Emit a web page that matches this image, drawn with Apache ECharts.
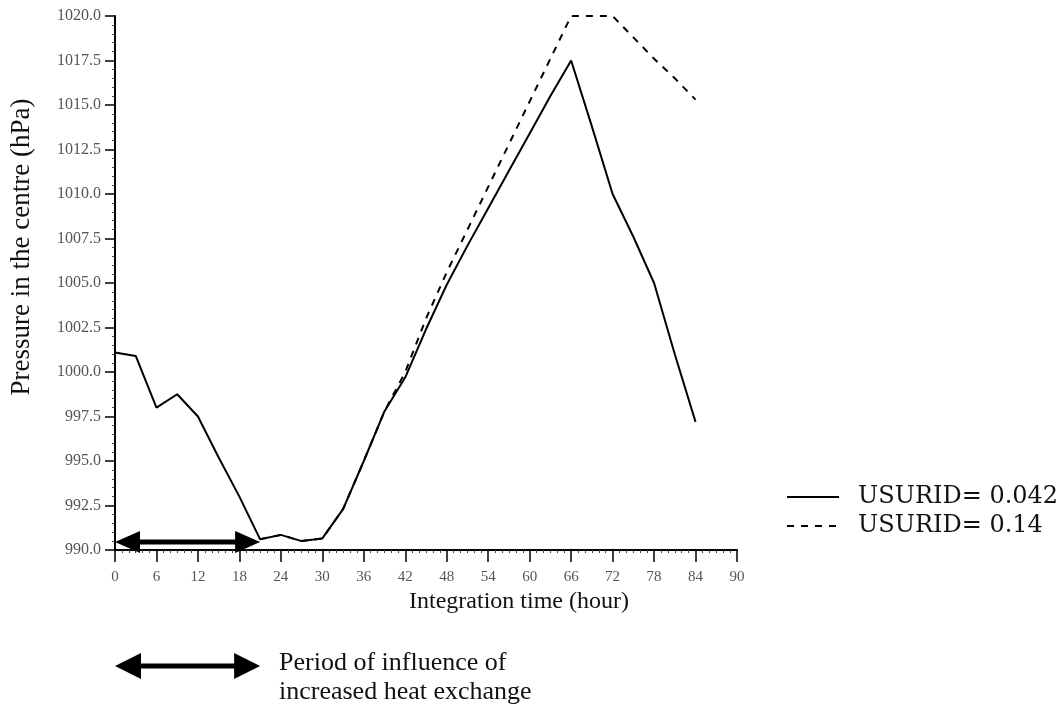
<!DOCTYPE html>
<html>
<head>
<meta charset="utf-8">
<script src="https://cdn.jsdelivr.net/npm/echarts@6/dist/echarts.min.js"></script>
<style>
html,body{margin:0;padding:0;background:#fff;}
#chart{width:1063px;height:707px;}
</style>
</head>
<body>
<div id="chart"></div>
<script>
// ---- data ----
const hours = [0,3,6,9,12,15,18,21,24,27,30,33,36,39,42,45,48,51,54,57,60,63,66,69,72,75,78,81,84];
const usurid042 = [1001.1,1000.9,998.0,998.75,997.5,995.2,993.0,990.6,990.85,990.5,990.65,992.3,995.0,997.8,999.7,1002.4,1004.9,1007.1,1009.2,1011.3,1013.4,1015.5,1017.5,1013.8,1010.0,1007.6,1005.0,1001.0,997.2];
const usurid014 = [null,null,null,null,null,null,null,990.6,990.85,990.5,990.65,992.3,995.0,997.8,1000.0,1003.0,1005.6,1008.0,1010.4,1012.8,1015.2,1017.6,1020.0,1020.0,1020.0,1018.8,1017.6,1016.5,1015.3];
const seriesNames = ['USURID= 0.042', 'USURID= 0.14'];
const influencePeriod = [0, 21];      // hours
const influenceLevel = 990.45;        // hPa, where the in-plot arrow is drawn
const yTicks = {min: 990, max: 1020, interval: 2.5};
const xTicks = {min: 0, max: 90, interval: 6};
const annotationLines = ['Period of influence of', 'increased heat exchange'];

const serif = '"Liberation Serif", "Times New Roman", serif';
const wideSerif = '"DejaVu Serif", serif';
const chart = echarts.init(document.getElementById('chart'), null, {renderer: 'canvas'});

function pair(xs, ys) { return xs.map((x, i) => [x, ys[i]]); }

const option = {
  backgroundColor: '#fff',
  animation: false,
  grid: {left: 110, right: 326, top: 16, bottom: 157, containLabel: false},
  xAxis: {
    type: 'value', min: xTicks.min, max: xTicks.max, interval: xTicks.interval,
    name: 'Integration time (hour)', nameLocation: 'middle', nameGap: 40,
    nameTextStyle: {fontFamily: serif, fontSize: 24, color: '#111', padding: [0, 0, 0, 186]},
    axisLine: {show: true, onZero: false, lineStyle: {color: '#000', width: 2}},
    axisTick: {show: true, length: 12, lineStyle: {color: '#000', width: 1.5}},
    minorTick: {show: true, splitNumber: 6, length: 3, lineStyle: {color: '#444', width: 1}},
    axisLabel: {fontFamily: serif, fontSize: 15, color: '#555', margin: 20},
    splitLine: {show: false}
  },
  yAxis: {
    type: 'value', min: yTicks.min, max: yTicks.max, interval: yTicks.interval,
    name: 'Pressure in the centre (hPa)', nameLocation: 'middle', nameGap: 80, nameRotate: 90,
    nameTextStyle: {fontFamily: serif, fontSize: 27, color: '#111', padding: [0, 0, 0, 72]},
    axisLine: {show: true, onZero: false, lineStyle: {color: '#000', width: 2}},
    axisTick: {show: true, length: 10, lineStyle: {color: '#000', width: 1.5}},
    minorTick: {show: true, splitNumber: 5, length: 3, lineStyle: {color: '#444', width: 1}},
    axisLabel: {fontFamily: serif, fontSize: 16, color: '#555', margin: 14,
      formatter: v => v.toFixed(1)},
    splitLine: {show: false}
  },
  legend: {
    orient: 'vertical', left: 781, top: 480, itemWidth: 52, itemHeight: 14, itemGap: 5,
    itemStyle: {color: 'rgba(0,0,0,0)', borderWidth: 0, opacity: 0},
    lineStyle: {width: 2},
    textStyle: {fontFamily: wideSerif, fontSize: 24, color: '#111', padding: [0, 0, 0, 14]},
    data: seriesNames
  },
  series: [
    {
      name: seriesNames[0], type: 'line', data: pair(hours, usurid042),
      symbol: 'none', lineStyle: {color: '#000', width: 2}, itemStyle: {color: '#000'},
      z: 3
    },
    {
      name: seriesNames[1], type: 'line', data: pair(hours, usurid014),
      symbol: 'none', connectNulls: false,
      lineStyle: {color: '#000', width: 2, type: [7, 7]}, itemStyle: {color: '#000'},
      z: 2
    }
  ]
};
chart.setOption(option);

// ---- arrows (period of increased heat exchange), placed through the axes' scales ----
function doubleArrow(x1, x2, y, headLen, headHalf, shaft) {
  return [
    {type: 'line', shape: {x1: x1 + headLen - 2, y1: y, x2: x2 - headLen + 2, y2: y},
      style: {stroke: '#000', lineWidth: shaft}, z: 10},
    {type: 'polygon', shape: {points: [[x1, y], [x1 + headLen, y - headHalf], [x1 + headLen, y + headHalf]]},
      style: {fill: '#000'}, z: 10},
    {type: 'polygon', shape: {points: [[x2, y], [x2 - headLen, y - headHalf], [x2 - headLen, y + headHalf]]},
      style: {fill: '#000'}, z: 10}
  ];
}
const pA = chart.convertToPixel({gridIndex: 0}, [influencePeriod[0], influenceLevel]);
const pB = chart.convertToPixel({gridIndex: 0}, [influencePeriod[1], influenceLevel]);
const graphics = [];
graphics.push(...doubleArrow(pA[0], pB[0], pA[1], 25, 11, 5));
graphics.push(...doubleArrow(pA[0], pB[0], 666, 26, 13, 5));
graphics.push({type: 'text', left: 279, top: 650,
  style: {text: annotationLines[0], font: '26px ' + serif, fill: '#111'}});
graphics.push({type: 'text', left: 279, top: 679,
  style: {text: annotationLines[1], font: '26px ' + serif, fill: '#111'}});
chart.setOption({graphic: graphics});
</script>
</body>
</html>
